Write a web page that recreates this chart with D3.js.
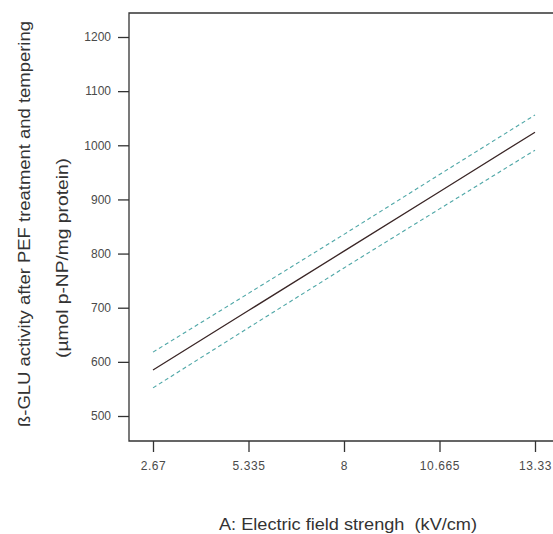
<!DOCTYPE html>
<html>
<head>
<meta charset="utf-8">
<script src="https://cdn.jsdelivr.net/npm/d3@7"></script>
<style>
  body { margin: 0; background: #fff; }
  svg { display: block; font-family: "Liberation Sans", Arial, sans-serif; }
  .title { white-space: pre; }
</style>
</head>
<body>
<svg id="chart" width="553" height="534"></svg>
<script>
// values
const fieldStrength = [2.67, 5.335, 8, 10.665, 13.33];
const meanActivity = [585, 694.75, 804.5, 914.25, 1024];
const upperBand = [618, 726.5, 835.5, 946, 1056];
const lowerBand = [552, 663, 773.5, 882.5, 991];
const xTicks = [2.67, 5.335, 8, 10.665, 13.33];
const yTicks = [500, 600, 700, 800, 900, 1000, 1100, 1200];

const svg = d3.select("#chart");

// plot frame in pixels
const frame = { left: 129, right: 553, top: 13, bottom: 441 };

const x = d3.scaleLinear().domain([2.67, 13.33]).range([153, 535]);
const y = d3.scaleLinear().domain([500, 1200]).range([416, 37]);

const axisColor = "#333";

// frame
svg.append("path")
  .attr("d", `M${frame.right},${frame.top}H${frame.left}V${frame.bottom}H${frame.right}`)
  .attr("fill", "none")
  .attr("stroke", axisColor)
  .attr("stroke-width", 1.3);

// y axis ticks
const yAxis = d3.axisLeft(y).tickValues(yTicks).tickSize(11).tickPadding(7).tickFormat(d3.format("d"));
const gy = svg.append("g").attr("transform", `translate(${frame.left},0)`).call(yAxis);
gy.select(".domain").remove();

// x axis ticks
const xAxis = d3.axisBottom(x).tickValues(xTicks).tickSize(11).tickPadding(9).tickFormat(d => String(d));
const gx = svg.append("g").attr("transform", `translate(0,${frame.bottom})`).call(xAxis);
gx.select(".domain").remove();

svg.selectAll(".tick line").attr("stroke", axisColor).attr("stroke-width", 1.3);
svg.selectAll(".tick text")
  .attr("fill", "#4a4a4a")
  .style("font-size", "12px")
  .style("font-family", "\"Liberation Sans\", Arial, sans-serif");
gx.selectAll(".tick text").style("letter-spacing", "0.6px");

// lines
const line = d3.line().x((d, i) => x(fieldStrength[i])).y(d => y(d));

svg.append("path")
  .datum(upperBand)
  .attr("d", line)
  .attr("fill", "none")
  .attr("stroke", "#4fa7a7")
  .attr("stroke-width", 1.1)
  .attr("stroke-dasharray", "4,3");

svg.append("path")
  .datum(lowerBand)
  .attr("d", line)
  .attr("fill", "none")
  .attr("stroke", "#4fa7a7")
  .attr("stroke-width", 1.1)
  .attr("stroke-dasharray", "4,3");

svg.append("path")
  .datum(meanActivity)
  .attr("d", line)
  .attr("fill", "none")
  .attr("stroke", "#3a2626")
  .attr("stroke-width", 1.3);

// axis titles
svg.append("text")
  .attr("class", "title")
  .attr("x", 348)
  .attr("y", 530)
  .attr("text-anchor", "middle")
  .attr("fill", "#333")
  .attr("textLength", 258)
  .attr("lengthAdjust", "spacingAndGlyphs")
  .style("font-size", "16px")
  .text("A: Electric field strengh  (kV/cm)");

svg.append("text")
  .attr("class", "title")
  .attr("transform", "translate(30,224) rotate(-90)")
  .attr("text-anchor", "middle")
  .attr("fill", "#333")
  .attr("textLength", 406)
  .attr("lengthAdjust", "spacingAndGlyphs")
  .style("font-size", "16px")
  .text("ß-GLU activity after PEF treatment and tempering");

svg.append("text")
  .attr("class", "title")
  .attr("transform", "translate(68,258) rotate(-90)")
  .attr("text-anchor", "middle")
  .attr("fill", "#333")
  .attr("textLength", 200)
  .attr("lengthAdjust", "spacingAndGlyphs")
  .style("font-size", "16px")
  .text("(µmol p-NP/mg protein)");
</script>
</body>
</html>
